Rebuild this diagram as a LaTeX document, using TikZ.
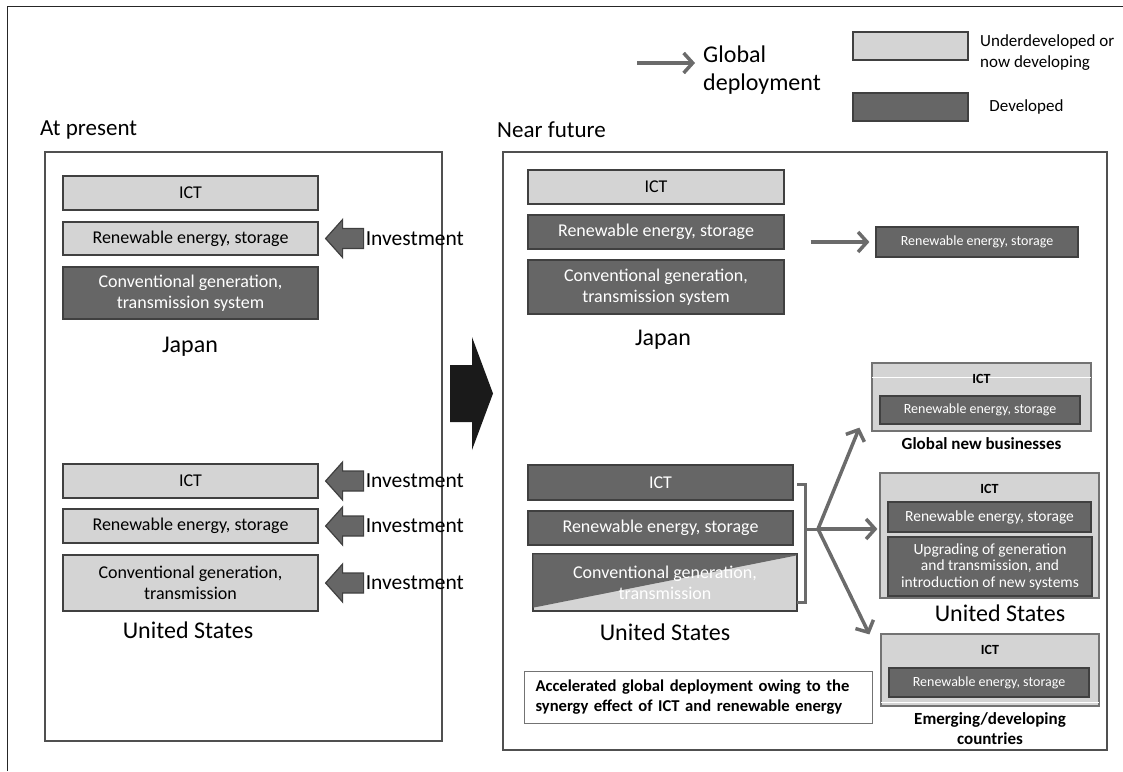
\documentclass[tikz,border=0pt]{standalone}
\usepackage{fontspec}
\setmainfont{Carlito}
\usepackage{tikz}
\usetikzlibrary{arrows.meta,calc,positioning}
\definecolor{lightfill}{HTML}{D4D4D4}
\definecolor{darkfill}{HTML}{666666}
\definecolor{edgegray}{HTML}{404040}
\definecolor{panelgray}{HTML}{505050}
\definecolor{arrowgray}{HTML}{6B6B6B}
\definecolor{blackarrow}{HTML}{1A1A1A}
\tikzset{
  box/.style={draw=edgegray,line width=1.2pt,fill=lightfill,inner sep=0pt,align=center,font=\fontsize{18}{21}\selectfont},
  dark/.style={fill=darkfill,text=white},
  lbox/.style={box,minimum width=255pt,minimum height=34pt},
  rbox/.style={box,minimum width=256pt,minimum height=34pt},
  ubox/.style={box,minimum width=265pt,minimum height=35pt},
  sbox/.style={box,font=\fontsize{14}{16}\selectfont},
  mbox/.style={box,font=\fontsize{15.5}{16.5}\selectfont},
  obox/.style={draw=panelgray!80,line width=1.2pt,fill=lightfill,inner sep=0pt},
  panel/.style={draw=panelgray,line width=2.2pt,inner sep=0pt},
  legbox/.style={draw=edgegray,line width=2.5pt,minimum width=115pt,minimum height=28pt,inner sep=0pt},
  txt/.style={inner sep=0pt},
  cname/.style={txt,font=\fontsize{24}{28}\selectfont},
  blbl/.style={txt,align=center,font=\bfseries\fontsize{17}{20}\selectfont},
  ictlbl/.style={txt,font=\bfseries\fontsize{14}{16}\selectfont},
  gdarrow/.style={draw=arrowgray,line width=3.5pt,-{Straight Barb[length=9pt,width=20pt]}},
  bracket/.style={draw=arrowgray,line width=3pt},
  invarrow/.style={draw=edgegray,fill=darkfill,line width=1.2pt,line join=miter}
}
\newcommand{\invest}[2]{%
  \draw[invarrow] ($(#1.east)+(7,0)$) -- ++(17,-19) -- ++(0,9) -- ++(21,0) -- ++(0,20) -- ++(-21,0) -- ++(0,9) -- cycle;
  \node[txt,anchor=west,font=\fontsize{21.5}{24}\selectfont] (#2) at ($(#1.east)+(47,0)$) {Investment};}
\begin{document}
\begin{tikzpicture}[x=1pt,y=-1pt]
\useasboundingbox (0,0) rectangle (1123,771);
\draw[line width=1pt,black!85] (7,771) -- (7,6) -- (1123,6);

\coordinate (gdStart) at (637,63);
\node[txt,anchor=west,align=left,font=\fontsize{24}{28}\selectfont] (gdTxt) at (703,70) {Global\\deployment};
\draw[gdarrow,shorten >=8pt] (gdStart) -- (gdStart -| gdTxt.west);
\node[legbox,fill=lightfill] (legLight) at (910.5,46) {};
\node[legbox,fill=darkfill] (legDark) at (910.5,107) {};
\node[txt,anchor=west,align=left,font=\fontsize{17}{21}\selectfont] (legLightTxt) at (980,53) {Underdeveloped or\\now developing};
\node[txt,anchor=west,font=\fontsize{17}{21}\selectfont,right=20pt of legDark] (legDarkTxt) {Developed};

\node[txt,anchor=west,font=\fontsize{23}{27}\selectfont] (nowTitle) at (40,130) {At present};
\node[txt,anchor=west,font=\fontsize{23}{27}\selectfont] (nextTitle) at (497,130) {Near future};
\node[panel,minimum width=397pt,minimum height=589pt] (nowPanel) at (243.5,446.5) {};
\node[panel,minimum width=604pt,minimum height=598pt] (nextPanel) at (805,451) {};

\node[lbox] (jpIct) at (190.5,193) {ICT};
\node[lbox,minimum height=33pt] (jpRen) at (190.5,238.5) {Renewable energy, storage};
\node[lbox,dark,minimum height=52pt] (jpConv) at (190.5,293) {Conventional generation,\\transmission system};
\node[cname] (jpName) at (190,347) {Japan};
\invest{jpRen}{jpInv}
\node[lbox] (usIct) at (190.5,481) {ICT};
\node[lbox] (usRen) at (190.5,526) {Renewable energy, storage};
\node[lbox,minimum height=56pt] (usConv) at (190.5,583) {Conventional generation,\\transmission};
\node[cname] (usName) at (188,630) {United States};
\invest{usIct}{usIctInv}
\invest{usRen}{usRenInv}
\invest{usConv}{usConvInv}

\fill[blackarrow] (450,365) -- (472,365) -- (472,337) -- (493,393.5) -- (472,450) -- (472,422) -- (450,422) -- cycle;

\node[rbox] (fjIct) at (656,187) {ICT};
\node[rbox,dark] (fjRen) at (656,232) {Renewable energy, storage};
\node[rbox,dark,minimum height=54pt] (fjConv) at (656,287) {Conventional generation,\\transmission system};
\node[cname] (fjName) at (663,340) {Japan};
\node[sbox,dark,minimum width=202pt,minimum height=30pt] (fxRen) at (977,242) {Renewable energy, storage};
\draw[gdarrow,shorten <=26pt,shorten >=6pt] (fxRen.west -| fjRen.east) -- (fxRen.west);

\node[ubox,dark] (fuIct) at (660.5,482.5) {ICT};
\node[ubox,dark,minimum height=34pt] (fuRen) at (660.5,528) {Renewable energy, storage};
\node[ubox,minimum width=264pt,minimum height=57pt] (fuConv) at (665,582.5) {};
\fill[darkfill] ($(fuConv.north west)+(1,1)$) -- ($(fuConv.north east)+(-1,1)$) -- ($(fuConv.north east)+(-1,2)$) -- ($(fuConv.south west)+(1,-4)$) -- cycle;
\node[txt,align=center,text=white,font=\fontsize{18}{21}\selectfont] (fuConvTxt) at (fuConv) {Conventional generation,\\transmission};
\node[cname] (fuName) at (665,632) {United States};

\coordinate (brTop) at (805,484);
\coordinate (brBot) at (805,602);
\coordinate (fan) at (818,529);
\draw[bracket] ($(brTop)+(-8,0)$) -- (brTop) -- (brBot) -- ($(brBot)+(-8,0)$);
\draw[bracket] (fan -| brTop) -- (fan);

\node[obox,minimum width=219pt,minimum height=68pt] (gnBox) at (981.5,397) {};
\draw[white,line width=0.8pt] ($(gnBox.north west)+(1,15)$) -- ($(gnBox.north east)+(-1,15)$);
\node[ictlbl] (gnIct) at (981.5,379) {ICT};
\node[sbox,dark,minimum width=200pt,minimum height=28pt] (gnRen) at (980,410) {Renewable energy, storage};
\node[blbl] (gnName) at (981.5,444) {Global new businesses};

\node[obox,minimum width=219pt,minimum height=125pt] (usBox) at (989.5,535.5) {};
\node[ictlbl] (usBoxIct) at (989.5,489) {ICT};
\node[mbox,dark,minimum width=203pt,minimum height=30pt] (usBoxRen) at (989.5,517) {Renewable energy, storage};
\node[mbox,dark,minimum width=204pt,minimum height=59pt] (usBoxUp) at (990,566.5) {Upgrading of generation\\and transmission, and\\introduction of new systems};
\node[cname] (usBoxName) at (1000,613) {United States};

\node[obox,minimum width=218pt,minimum height=72pt] (emBox) at (990,670) {};
\node[ictlbl] (emIct) at (990,650) {ICT};
\node[sbox,dark,minimum width=200pt,minimum height=29pt] (emRen) at (989,682.5) {Renewable energy, storage};
\draw[white,line width=0.8pt] ($(emBox.south west)+(1,-4)$) -- ($(emBox.south east)+(-1,-4)$);
\node[blbl] (emName) at (990,729) {Emerging/developing\\countries};

\draw[gdarrow] (fan) -- ($(gnBox.south west)+(-12,-4)$);
\draw[gdarrow,shorten >=2pt] (fan) -- (fan -| usBox.west);
\draw[gdarrow] (fan) -- ($(emBox.north west)+(-11,1)$);

\node[draw=panelgray!80,line width=1pt,text width=325pt,inner xsep=11.5pt,inner ysep=0pt,minimum height=52pt,align=left,font=\bfseries\fontsize{16.6}{20}\selectfont] (synBox) at (698,697) {Accelerated global deployment owing to the\\synergy effect of ICT and renewable energy};
\end{tikzpicture}
\end{document}
